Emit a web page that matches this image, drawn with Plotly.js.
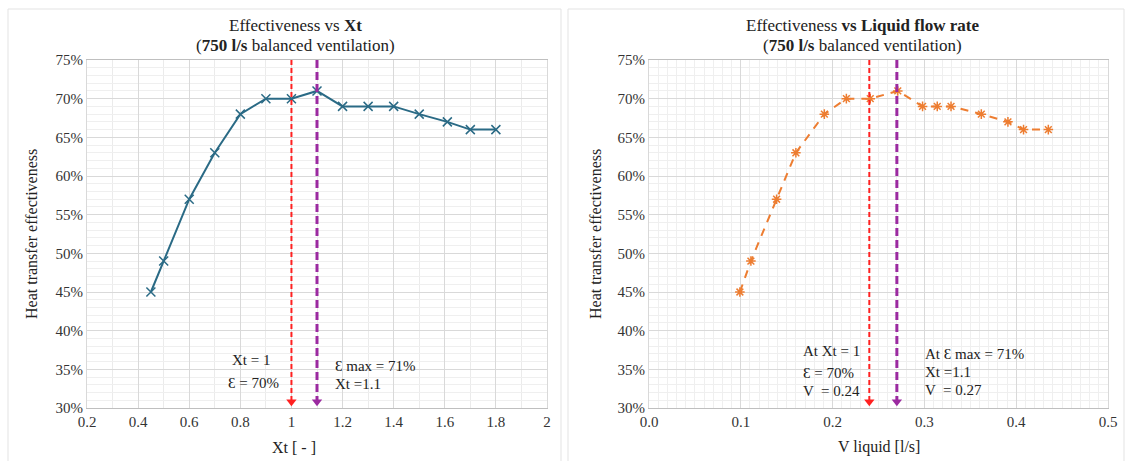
<!DOCTYPE html>
<html>
<head>
<meta charset="utf-8">
<script src="https://cdn.plot.ly/plotly-3.0.1.min.js"></script>
<style>html,body{margin:0;padding:0;background:#fff;}#chart{width:1126px;height:461px;}</style>
</head>
<body>
<div id="chart"></div>
<script>
// Left chart: Effectiveness vs Xt
const xtValues = [0.45, 0.5, 0.6, 0.7, 0.8, 0.9, 1.0, 1.1, 1.2, 1.3, 1.4, 1.5, 1.61, 1.7, 1.8];
const effXt    = [0.45, 0.49, 0.57, 0.63, 0.68, 0.70, 0.70, 0.71, 0.69, 0.69, 0.69, 0.68, 0.67, 0.66, 0.66];
// Right chart: Effectiveness vs liquid flow rate
const vLiquid  = [0.099, 0.111, 0.139, 0.160, 0.191, 0.215, 0.241, 0.271, 0.298, 0.314, 0.329, 0.362, 0.391, 0.408, 0.435];
const effV     = [0.45, 0.49, 0.57, 0.63, 0.68, 0.70, 0.70, 0.71, 0.69, 0.69, 0.69, 0.68, 0.67, 0.66, 0.66];
// Reference markers
const xtAtUnity = 1.0, xtAtMax = 1.1;
const vAtUnity = 0.24, vAtMax = 0.27;
const yBottom = 0.30, yTop = 0.75;

const serif = "Liberation Serif, Times New Roman, serif";
const teal = "#2A6A85";
const orange = "#ED7D31";
const red = "#FF2020";
const purple = "#9B2AA0";

function vline(x, xa, ya, color, width, dash) {
  return {x: [x, x], y: [yTop, yBottom + 0.006], xaxis: xa, yaxis: ya, mode: 'lines', type: 'scatter',
    line: {color: color, width: width, dash: dash}};
}
function arrow(x, xa, ya, color) {
  return {x: [x], y: [yBottom + 0.008], xaxis: xa, yaxis: ya, mode: 'markers', type: 'scatter',
    marker: {symbol: 'triangle-down', size: 9, color: color}};
}

const traces = [
  {x: xtValues, y: effXt, xaxis: 'x', yaxis: 'y', mode: 'lines+markers', type: 'scatter',
   line: {color: teal, width: 2}, marker: {symbol: 'x-thin-open', size: 9, color: teal, line: {color: teal, width: 1.5}}},
  {x: vLiquid, y: effV, xaxis: 'x2', yaxis: 'y2', mode: 'lines+markers', type: 'scatter',
   line: {color: orange, width: 2, dash: '8px,7px'}, marker: {symbol: 'asterisk-open', size: 8, color: orange, line: {color: orange, width: 1.5}}},
  vline(xtAtUnity, 'x', 'y', red, 2, '5px,3px'),
  vline(xtAtMax, 'x', 'y', purple, 3, '8px,4px'),
  vline(vAtUnity, 'x2', 'y2', red, 2, '5px,3px'),
  vline(vAtMax, 'x2', 'y2', purple, 3, '8px,4px'),
  arrow(xtAtUnity, 'x', 'y', red),
  arrow(xtAtMax, 'x', 'y', purple),
  arrow(vAtUnity, 'x2', 'y2', red),
  arrow(vAtMax, 'x2', 'y2', purple)
];

const yDom = [1 - 408/461, 1 - 60/461];
const gridMajor = '#D9D9D9';
const gridMinor = '#EFEFEF';
const tickFont = {family: serif, size: 15, color: '#333'};

function yax(domain, anchor) {
  return {domain: domain, anchor: anchor, range: [yBottom, yTop], dtick: 0.05, tick0: 0.3, tickformat: '.0%',
    showgrid: true, gridcolor: gridMajor, gridwidth: 1, zeroline: false, showline: true, linecolor: gridMajor, mirror: true,
    ticks: '', ticklen: 0, tickfont: tickFont,
    minor: {dtick: 0.01, showgrid: true, gridcolor: gridMinor, gridwidth: 1}};
}

const noteFont = {family: serif, size: 15, color: '#222'};
const titleFont = {family: serif, size: 17, color: '#222'};
function note(x, y, text) {
  return {xref: 'paper', yref: 'paper', x: x/1126, y: 1 - y/461, text: text, showarrow: false,
    xanchor: 'left', yanchor: 'middle', font: noteFont};
}
function centered(x, y, text, font, angle) {
  return {xref: 'paper', yref: 'paper', x: x/1126, y: 1 - y/461, text: text, showarrow: false,
    xanchor: 'center', yanchor: 'middle', font: font, textangle: angle || 0};
}

const layout = {
  width: 1126, height: 461,
  margin: {l: 0, r: 0, t: 0, b: 0},
  paper_bgcolor: '#fff', plot_bgcolor: '#fff',
  showlegend: false,
  xaxis: {domain: [87/1126, 547/1126], anchor: 'y', range: [0.2, 2], dtick: 0.2, tick0: 0.2,
    showgrid: true, gridcolor: gridMajor, zeroline: false, showline: true, linecolor: '#BFBFBF', mirror: true,
    ticks: '', tickfont: tickFont,
    minor: {dtick: 0.1, showgrid: true, gridcolor: '#EBEBEB'}},
  yaxis: yax(yDom, 'x'),
  xaxis2: {domain: [649/1126, 1108/1126], anchor: 'y2', range: [0, 0.5], dtick: 0.1, tick0: 0, tickformat: '.1f',
    showgrid: true, gridcolor: gridMajor, zeroline: false, showline: true, linecolor: '#BFBFBF', mirror: true,
    ticks: '', tickfont: tickFont,
    minor: {dtick: 0.01, showgrid: true, gridcolor: gridMinor}},
  yaxis2: yax(yDom, 'x2'),
  shapes: [
    {type: 'rect', xref: 'paper', yref: 'paper', x0: 8/1126, x1: 561/1126, y0: -0.01, y1: 1 - 9/461, line: {color: '#E3E3E3', width: 1}},
    {type: 'rect', xref: 'paper', yref: 'paper', x0: 568/1126, x1: 1124/1126, y0: -0.01, y1: 1 - 9/461, line: {color: '#E3E3E3', width: 1}}
  ],
  annotations: [
    centered(295, 25, 'Effectiveness vs <b>Xt</b>', titleFont),
    centered(295, 45, '(<b>750 l/s</b> balanced ventilation)', titleFont),
    centered(862, 25, 'Effectiveness <b>vs Liquid flow rate</b>', titleFont),
    centered(862, 45, '(<b>750 l/s</b> balanced ventilation)', titleFont),
    centered(294, 447, 'Xt [ - ]', {family: serif, size: 16, color: '#222'}),
    centered(879, 447, 'V liquid [l/s]', {family: serif, size: 16, color: '#222'}),
    centered(31, 234, 'Heat transfer effectiveness', {family: serif, size: 16, color: '#222'}, -90),
    centered(595, 234, 'Heat transfer effectiveness', {family: serif, size: 16, color: '#222'}, -90),
    // left notes
    note(230, 360, 'Xt = 1'),
    note(226, 383, 'Ɛ = 70%'),
    note(333, 366, 'Ɛ max = 71%'),
    note(333, 384, 'Xt =1.1'),
    // right notes
    note(801, 351, 'At Xt = 1'),
    note(801, 373, 'Ɛ = 70%'),
    note(801, 391, 'V  = 0.24'),
    note(923, 354, 'At Ɛ max = 71%'),
    note(923, 372, 'Xt =1.1'),
    note(923, 390, 'V  = 0.27')
  ]
};

Plotly.newPlot('chart', traces, layout, {staticPlot: true, displayModeBar: false});
</script>
</body>
</html>
